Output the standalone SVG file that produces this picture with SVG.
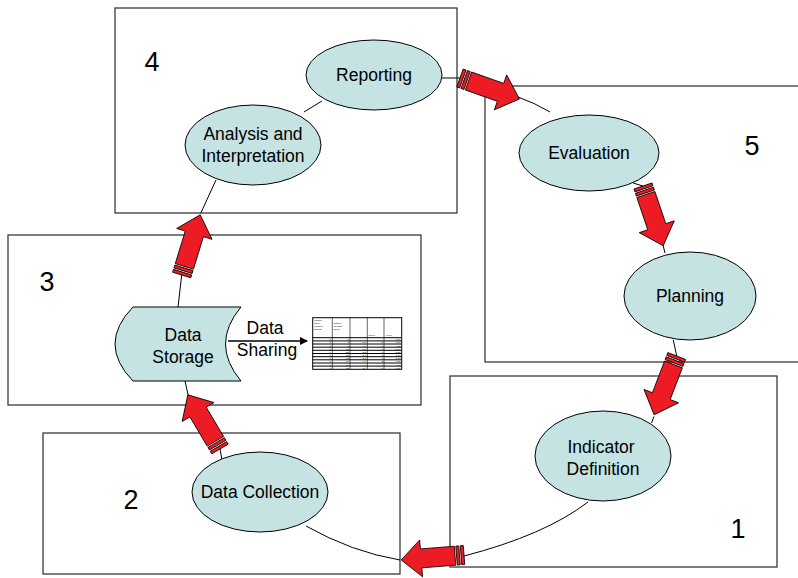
<svg xmlns="http://www.w3.org/2000/svg" width="798" height="578" viewBox="0 0 798 578">
<style>
.box{fill:none;stroke:#3a3a3a;stroke-width:1.3}
.num{font-family:"Liberation Sans",Arial,sans-serif;font-size:27px;fill:#000;text-anchor:middle}
.node{fill:#c5e3e3;stroke:#000;stroke-width:1}
.lbl{font-family:"Liberation Sans",Arial,sans-serif;font-size:17.5px;fill:#000;text-anchor:middle}
.con{fill:none;stroke:#000;stroke-width:1}
.red{fill:#ED1C24;stroke:#000;stroke-width:0.8}
.tb{fill:#fff;stroke:#000;stroke-width:1}
.tl{stroke:#000;stroke-width:0.6}
.tr{stroke:#000;stroke-width:1}
.tt{font-family:"Liberation Sans",Arial,sans-serif;font-size:2.5px;fill:#000}
.tn{font-family:"Liberation Sans",Arial,sans-serif;font-size:2.5px;fill:#000;text-anchor:end}
</style>
<defs>
<g id="arrow">
<rect class="red" x="0" y="-9.5" width="3" height="19"/>
<rect class="red" x="4.5" y="-9.5" width="3" height="19"/>
<polygon class="red" points="9,-9.5 43,-9.5 43,-18.5 63,0 43,18.5 43,9.5 9,9.5"/>
</g>
<marker id="ah" markerWidth="8" markerHeight="8" refX="7" refY="4" orient="auto" markerUnits="userSpaceOnUse">
<path d="M0,0 L8,4 L0,8 Z" fill="#000"/>
</marker>
</defs>

<g id="stages">
<g id="stage4"><rect class="box" x="115" y="8" width="342" height="205"/><text class="num" x="152" y="71">4</text></g>
<g id="stage5"><rect class="box" x="485" y="86" width="330" height="276"/><text class="num" x="752" y="155">5</text></g>
<g id="stage3"><rect class="box" x="8" y="235" width="413" height="170"/><text class="num" x="47" y="291">3</text></g>
<g id="stage2"><rect class="box" x="43" y="433" width="357" height="141"/><text class="num" x="131" y="509">2</text></g>
<g id="stage1"><rect class="box" x="450" y="376" width="327" height="191"/><text class="num" x="738" y="538">1</text></g>
</g>

<g id="connectors">
<line class="con" x1="304" y1="112" x2="322" y2="101"/>
<line class="con" x1="216" y1="180" x2="200.7" y2="213.3"/>
<line class="con" x1="181.7" y1="275" x2="178" y2="307"/>
<line class="con" x1="185" y1="381" x2="188.3" y2="395.7"/>
<line class="con" x1="220" y1="449" x2="222" y2="460"/>
<path class="con" d="M306 526 Q352 552 400 560"/>
<path class="con" d="M464 556 Q545 535 588 502"/>
<line class="con" x1="654" y1="416.5" x2="651.5" y2="423"/>
<line class="con" x1="673.3" y1="340" x2="676.7" y2="356"/>
<line class="con" x1="663" y1="245" x2="665" y2="253"/>
<line class="con" x1="633" y1="183" x2="643" y2="186"/>
<path class="con" d="M518 97 Q535 103 550 112"/>
<line class="con" x1="441.7" y1="78" x2="460" y2="78"/>
<line x1="228" y1="341" x2="307" y2="341" stroke="#000" stroke-width="1.6" marker-end="url(#ah)"/>
<use href="#arrow" transform="translate(460,78) rotate(19.5)"/>
<use href="#arrow" transform="translate(643,186) rotate(71.3)"/>
<use href="#arrow" transform="translate(676.7,356) rotate(111)"/>
<use href="#arrow" transform="translate(464,555) rotate(175.5)"/>
<use href="#arrow" transform="translate(220,449) rotate(-120.7)"/>
<use href="#arrow" transform="translate(181.7,275) rotate(-72.9)"/>
</g>

<g id="reporting"><ellipse class="node" cx="374" cy="75" rx="68" ry="35"/><text class="lbl" x="374" y="81">Reporting</text></g>
<g id="analysis"><ellipse class="node" cx="253" cy="145" rx="68" ry="40"/><text class="lbl" x="253" y="140">Analysis and</text><text class="lbl" x="253" y="162">Interpretation</text></g>
<g id="evaluation"><ellipse class="node" cx="589" cy="153" rx="70" ry="38"/><text class="lbl" x="589" y="159">Evaluation</text></g>
<g id="planning"><ellipse class="node" cx="690" cy="296" rx="66" ry="44"/><text class="lbl" x="690" y="302">Planning</text></g>
<g id="indicator"><ellipse class="node" cx="603" cy="456" rx="68" ry="45"/><text class="lbl" x="601" y="453">Indicator</text><text class="lbl" x="603" y="475">Definition</text></g>
<g id="collection"><ellipse class="node" cx="260" cy="492" rx="68" ry="40"/><text class="lbl" x="260" y="498">Data Collection</text></g>
<g id="storage"><path class="node" d="M133 307 L241 307 Q210 344 241 381 L133 381 Q97 344 133 307 Z"/><text class="lbl" x="183" y="341">Data</text><text class="lbl" x="183" y="363">Storage</text></g>
<g id="sharing"><text class="lbl" x="265" y="334">Data</text><text class="lbl" x="267" y="356">Sharing</text></g>

<g id="table">
<rect class="tb" x="312.7" y="317.7" width="89" height="51.6"/>
<line class="tl" x1="332.3" y1="317.7" x2="332.3" y2="369.3"/>
<line class="tl" x1="350" y1="317.7" x2="350" y2="369.3"/>
<line class="tl" x1="367.3" y1="317.7" x2="367.3" y2="369.3"/>
<line class="tl" x1="384" y1="317.7" x2="384" y2="369.3"/>
<line class="tr" x1="312.7" y1="337.7" x2="401.7" y2="337.7"/>
<line class="tr" x1="312.7" y1="340.9" x2="401.7" y2="340.9"/>
<line class="tr" x1="312.7" y1="344.0" x2="401.7" y2="344.0"/>
<line class="tr" x1="312.7" y1="347.2" x2="401.7" y2="347.2"/>
<line class="tr" x1="312.7" y1="350.3" x2="401.7" y2="350.3"/>
<line class="tr" x1="312.7" y1="353.5" x2="401.7" y2="353.5"/>
<line class="tr" x1="312.7" y1="356.7" x2="401.7" y2="356.7"/>
<line class="tr" x1="312.7" y1="359.8" x2="401.7" y2="359.8"/>
<line class="tr" x1="312.7" y1="363.0" x2="401.7" y2="363.0"/>
<line class="tr" x1="312.7" y1="366.1" x2="401.7" y2="366.1"/>
<text class="tt" x="314" y="321">Labour</text>
<text class="tt" x="314" y="324">Input</text>
<text class="tt" x="314" y="327">(worker/</text>
<text class="tt" x="314" y="330">weeks)</text>
<text class="tt" x="333.5" y="324">Output</text>
<text class="tt" x="333.5" y="327">(Goods/</text>
<text class="tt" x="333.5" y="330">week)</text>
<text class="tt" x="368.5" y="336">MP(L)</text>
<text class="tt" x="385.5" y="336">AP(L)</text>
<g class="tn">
<text x="331" y="340.3">0</text><text x="348.8" y="340.3">0</text><text x="400.5" y="340.3">0.00</text>
<text x="331" y="343.4">1</text><text x="348.8" y="343.4">3</text><text x="366" y="343.4">3.0</text><text x="382.8" y="343.4">3</text><text x="400.5" y="343.4">3.00</text>
<text x="331" y="346.6">2</text><text x="348.8" y="346.6">8</text><text x="366" y="346.6">4.0</text><text x="382.8" y="346.6">5</text><text x="400.5" y="346.6">4.00</text>
<text x="331" y="349.7">3</text><text x="348.8" y="349.7">15</text><text x="366" y="349.7">5.0</text><text x="382.8" y="349.7">7</text><text x="400.5" y="349.7">5.00</text>
<text x="331" y="352.9">4</text><text x="348.8" y="352.9">22</text><text x="366" y="352.9">5.5</text><text x="382.8" y="352.9">7</text><text x="400.5" y="352.9">5.50</text>
<text x="331" y="356.1">5</text><text x="348.8" y="356.1">28</text><text x="366" y="356.1">5.6</text><text x="382.8" y="356.1">6</text><text x="400.5" y="356.1">5.60</text>
<text x="331" y="359.2">6</text><text x="348.8" y="359.2">32</text><text x="366" y="359.2">5.3</text><text x="382.8" y="359.2">4</text><text x="400.5" y="359.2">5.33</text>
<text x="331" y="362.4">7</text><text x="348.8" y="362.4">34</text><text x="366" y="362.4">4.9</text><text x="382.8" y="362.4">2</text><text x="400.5" y="362.4">4.86</text>
<text x="331" y="365.5">8</text><text x="348.8" y="365.5">35</text><text x="366" y="365.5">4.4</text><text x="382.8" y="365.5">1</text><text x="400.5" y="365.5">4.38</text>
<text x="331" y="368.7">9</text><text x="348.8" y="368.7">35</text><text x="366" y="368.7">3.9</text><text x="382.8" y="368.7">0</text><text x="400.5" y="368.7">3.89</text>
</g>
</g>
</svg>
